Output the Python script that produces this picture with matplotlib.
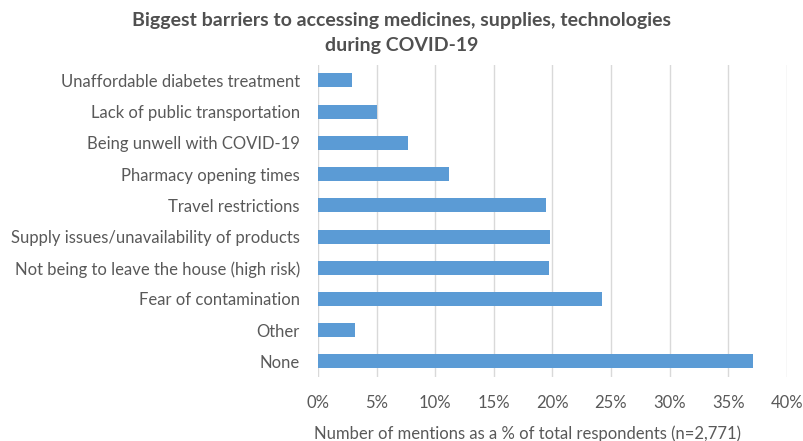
import matplotlib
matplotlib.use("Agg")
import matplotlib.pyplot as plt
from matplotlib.ticker import FuncFormatter

plt.rcParams['font.family'] = ['Lato', 'DejaVu Sans']

# categories top to bottom, values in % of respondents
categories = ['Unaffordable diabetes treatment',
              'Lack of public transportation',
              'Being unwell with COVID-19',
              'Pharmacy opening times',
              'Travel restrictions',
              'Supply issues/unavailability of products',
              'Not being to leave the house (high risk)',
              'Fear of contamination',
              'Other',
              'None']
values = [2.9, 5.0, 7.7, 11.2, 19.5, 19.8, 19.7, 24.2, 3.2, 37.1]
xticks = [0, 5, 10, 15, 20, 25, 30, 35, 40]

txt = '#595959'
fig = plt.figure(figsize=(8.04, 4.41), dpi=100)
ax = fig.add_axes([0.3955, 0.145, 0.583, 0.708])

ypos = list(range(len(categories)))[::-1]
ax.barh(ypos, values, height=0.45, color='#5B9BD5', zorder=3)

ax.set_xlim(0, 40)
ax.set_ylim(-0.5, len(categories) - 0.5)
ax.set_xticks(xticks)
ax.xaxis.set_major_formatter(FuncFormatter(lambda v, p: '%d%%' % v))
ax.set_yticks(ypos)
ax.set_yticklabels(categories)
ax.grid(axis='x', color='#D9D9D9', linewidth=1, zorder=0)
for s in ax.spines.values():
    s.set_visible(False)
ax.tick_params(axis='both', length=0, labelsize=12, labelcolor=txt)
ax.tick_params(axis='y', pad=13)
ax.tick_params(axis='x', pad=13)

ax.set_xlabel('Number of mentions as a % of total respondents (n=2,771)',
              fontsize=12, color=txt)
ax.xaxis.set_label_coords(0.446, -0.155)
fig.text(0.5, 0.972, 'Biggest barriers to accessing medicines, supplies, technologies\nduring COVID-19',
         ha='center', va='top', fontsize=14, fontweight='bold', color='#505050',
         linespacing=1.55)

fig.savefig('out.png', dpi=100)
